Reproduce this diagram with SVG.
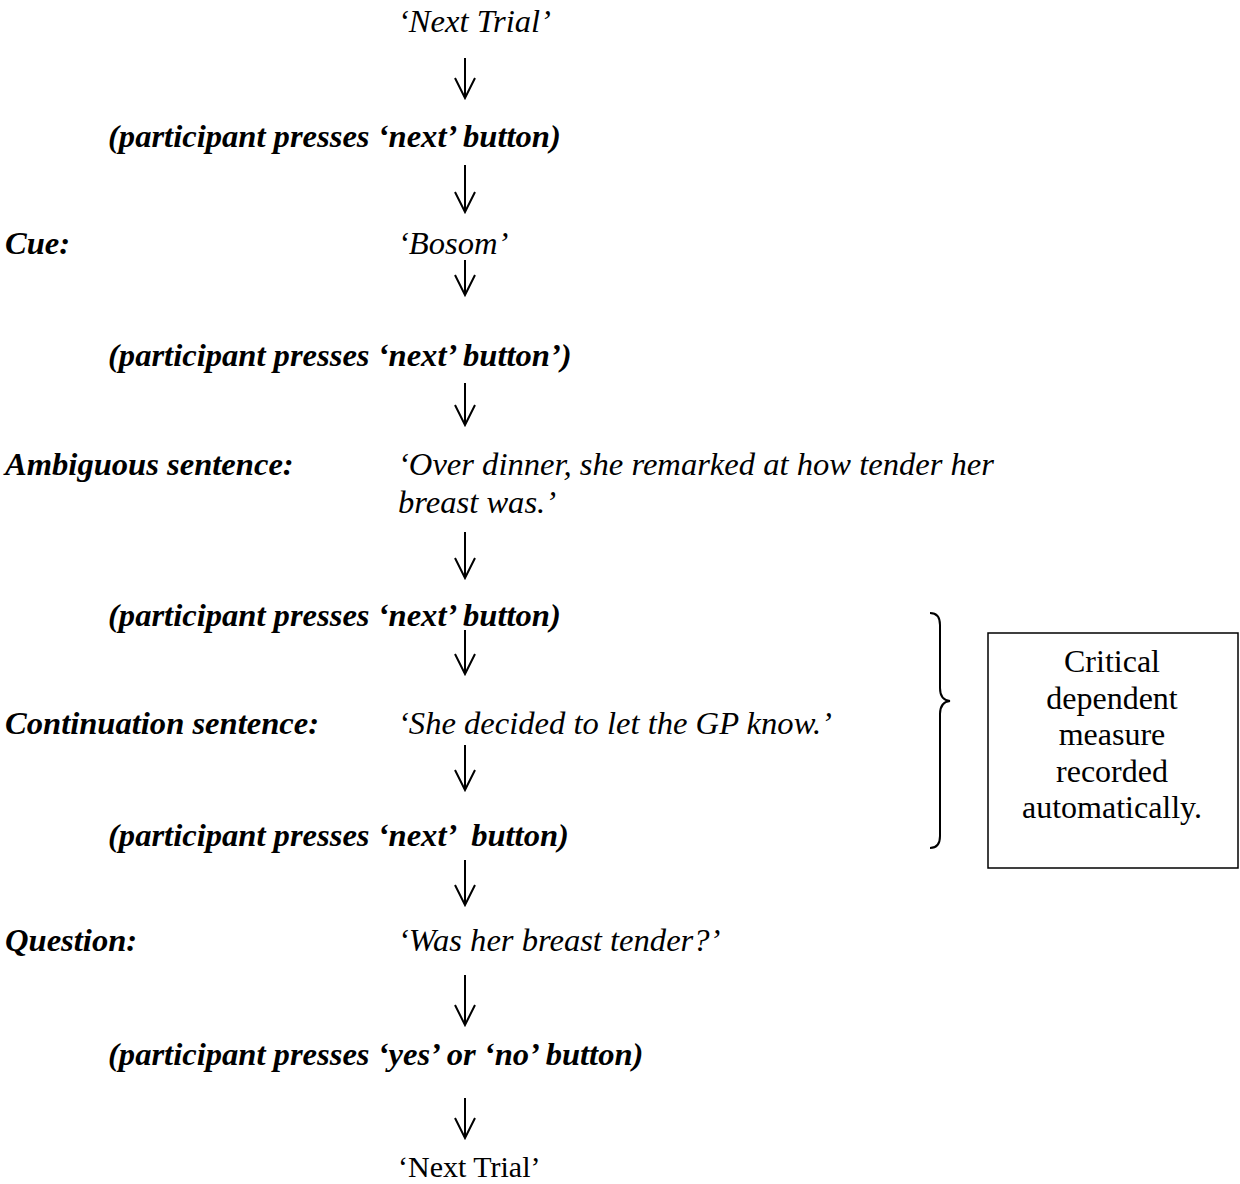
<svg xmlns="http://www.w3.org/2000/svg" width="1240" height="1184" viewBox="0 0 1240 1184">
<style>
text{font-family:"Liberation Serif","Times New Roman",serif;font-size:32.6px;fill:#000}
.q{font-style:italic}
.b{font-style:italic;font-weight:bold}
.r{font-style:normal;font-size:32px}
.c{text-anchor:middle}
.arr{fill:none;stroke:#000;stroke-width:2}
</style>
<g id="connectors">
<path class="arr" d="M465 58 V98 M455 78 L465 98 L475 78"/>
<path class="arr" d="M465 165 V212 M455 192 L465 212 L475 192"/>
<path class="arr" d="M465 260 V295 M455 275 L465 295 L475 275"/>
<path class="arr" d="M465 383 V425 M455 405 L465 425 L475 405"/>
<path class="arr" d="M465 532 V578 M455 558 L465 578 L475 558"/>
<path class="arr" d="M465 630 V674 M455 654 L465 674 L475 654"/>
<path class="arr" d="M465 745 V790 M455 770 L465 790 L475 770"/>
<path class="arr" d="M465 860 V905 M455 885 L465 905 L475 885"/>
<path class="arr" d="M465 975 V1025 M455 1005 L465 1025 L475 1005"/>
<path class="arr" d="M465 1098 V1138 M455 1118 L465 1138 L475 1118"/>
</g>
<g id="n1"><text class="q" x="398" y="32">‘Next Trial’</text></g>
<g id="n2"><text class="b" x="108" y="147">(participant presses ‘next’ button)</text></g>
<g id="n3"><text class="b" x="5" y="254">Cue:</text><text class="q" x="398" y="254">‘Bosom’</text></g>
<g id="n4"><text class="b" x="108" y="366">(participant presses ‘next’ button’)</text></g>
<g id="n5"><text class="b" x="5" y="475">Ambiguous sentence:</text><text class="q" x="398" y="475">‘Over dinner, she remarked at how tender her</text><text class="q" x="398" y="513">breast was.’</text></g>
<g id="n6"><text class="b" x="108" y="626">(participant presses ‘next’ button)</text></g>
<g id="n7"><text class="b" x="5" y="734">Continuation sentence:</text><text class="q" x="398" y="734">‘She decided to let the GP know.’</text></g>
<g id="n8"><text class="b" x="108" y="846" xml:space="preserve">(participant presses ‘next’  button)</text></g>
<g id="n9"><text class="b" x="5" y="951">Question:</text><text class="q" x="398" y="951">‘Was her breast tender?’</text></g>
<g id="n10"><text class="b" x="108" y="1065">(participant presses ‘yes’ or ‘no’ button)</text></g>
<g id="n11"><text class="r" x="398" y="1177" style="font-size:30px">‘Next Trial’</text></g>
<g id="brace"><path class="arr" stroke-width="1.5" d="M930 613 Q940 613 940 625 V688 Q940 700 950 701 Q940 702 940 714 V836 Q940 848 930 848"/></g>
<g id="box">
<rect x="988" y="633" width="250" height="235" fill="none" stroke="#000" stroke-width="1.5"/>
<text class="r c" x="1112" y="672">Critical</text>
<text class="r c" x="1112" y="709">dependent</text>
<text class="r c" x="1112" y="745">measure</text>
<text class="r c" x="1112" y="782">recorded</text>
<text class="r c" x="1112" y="818">automatically.</text>
</g>
</svg>
